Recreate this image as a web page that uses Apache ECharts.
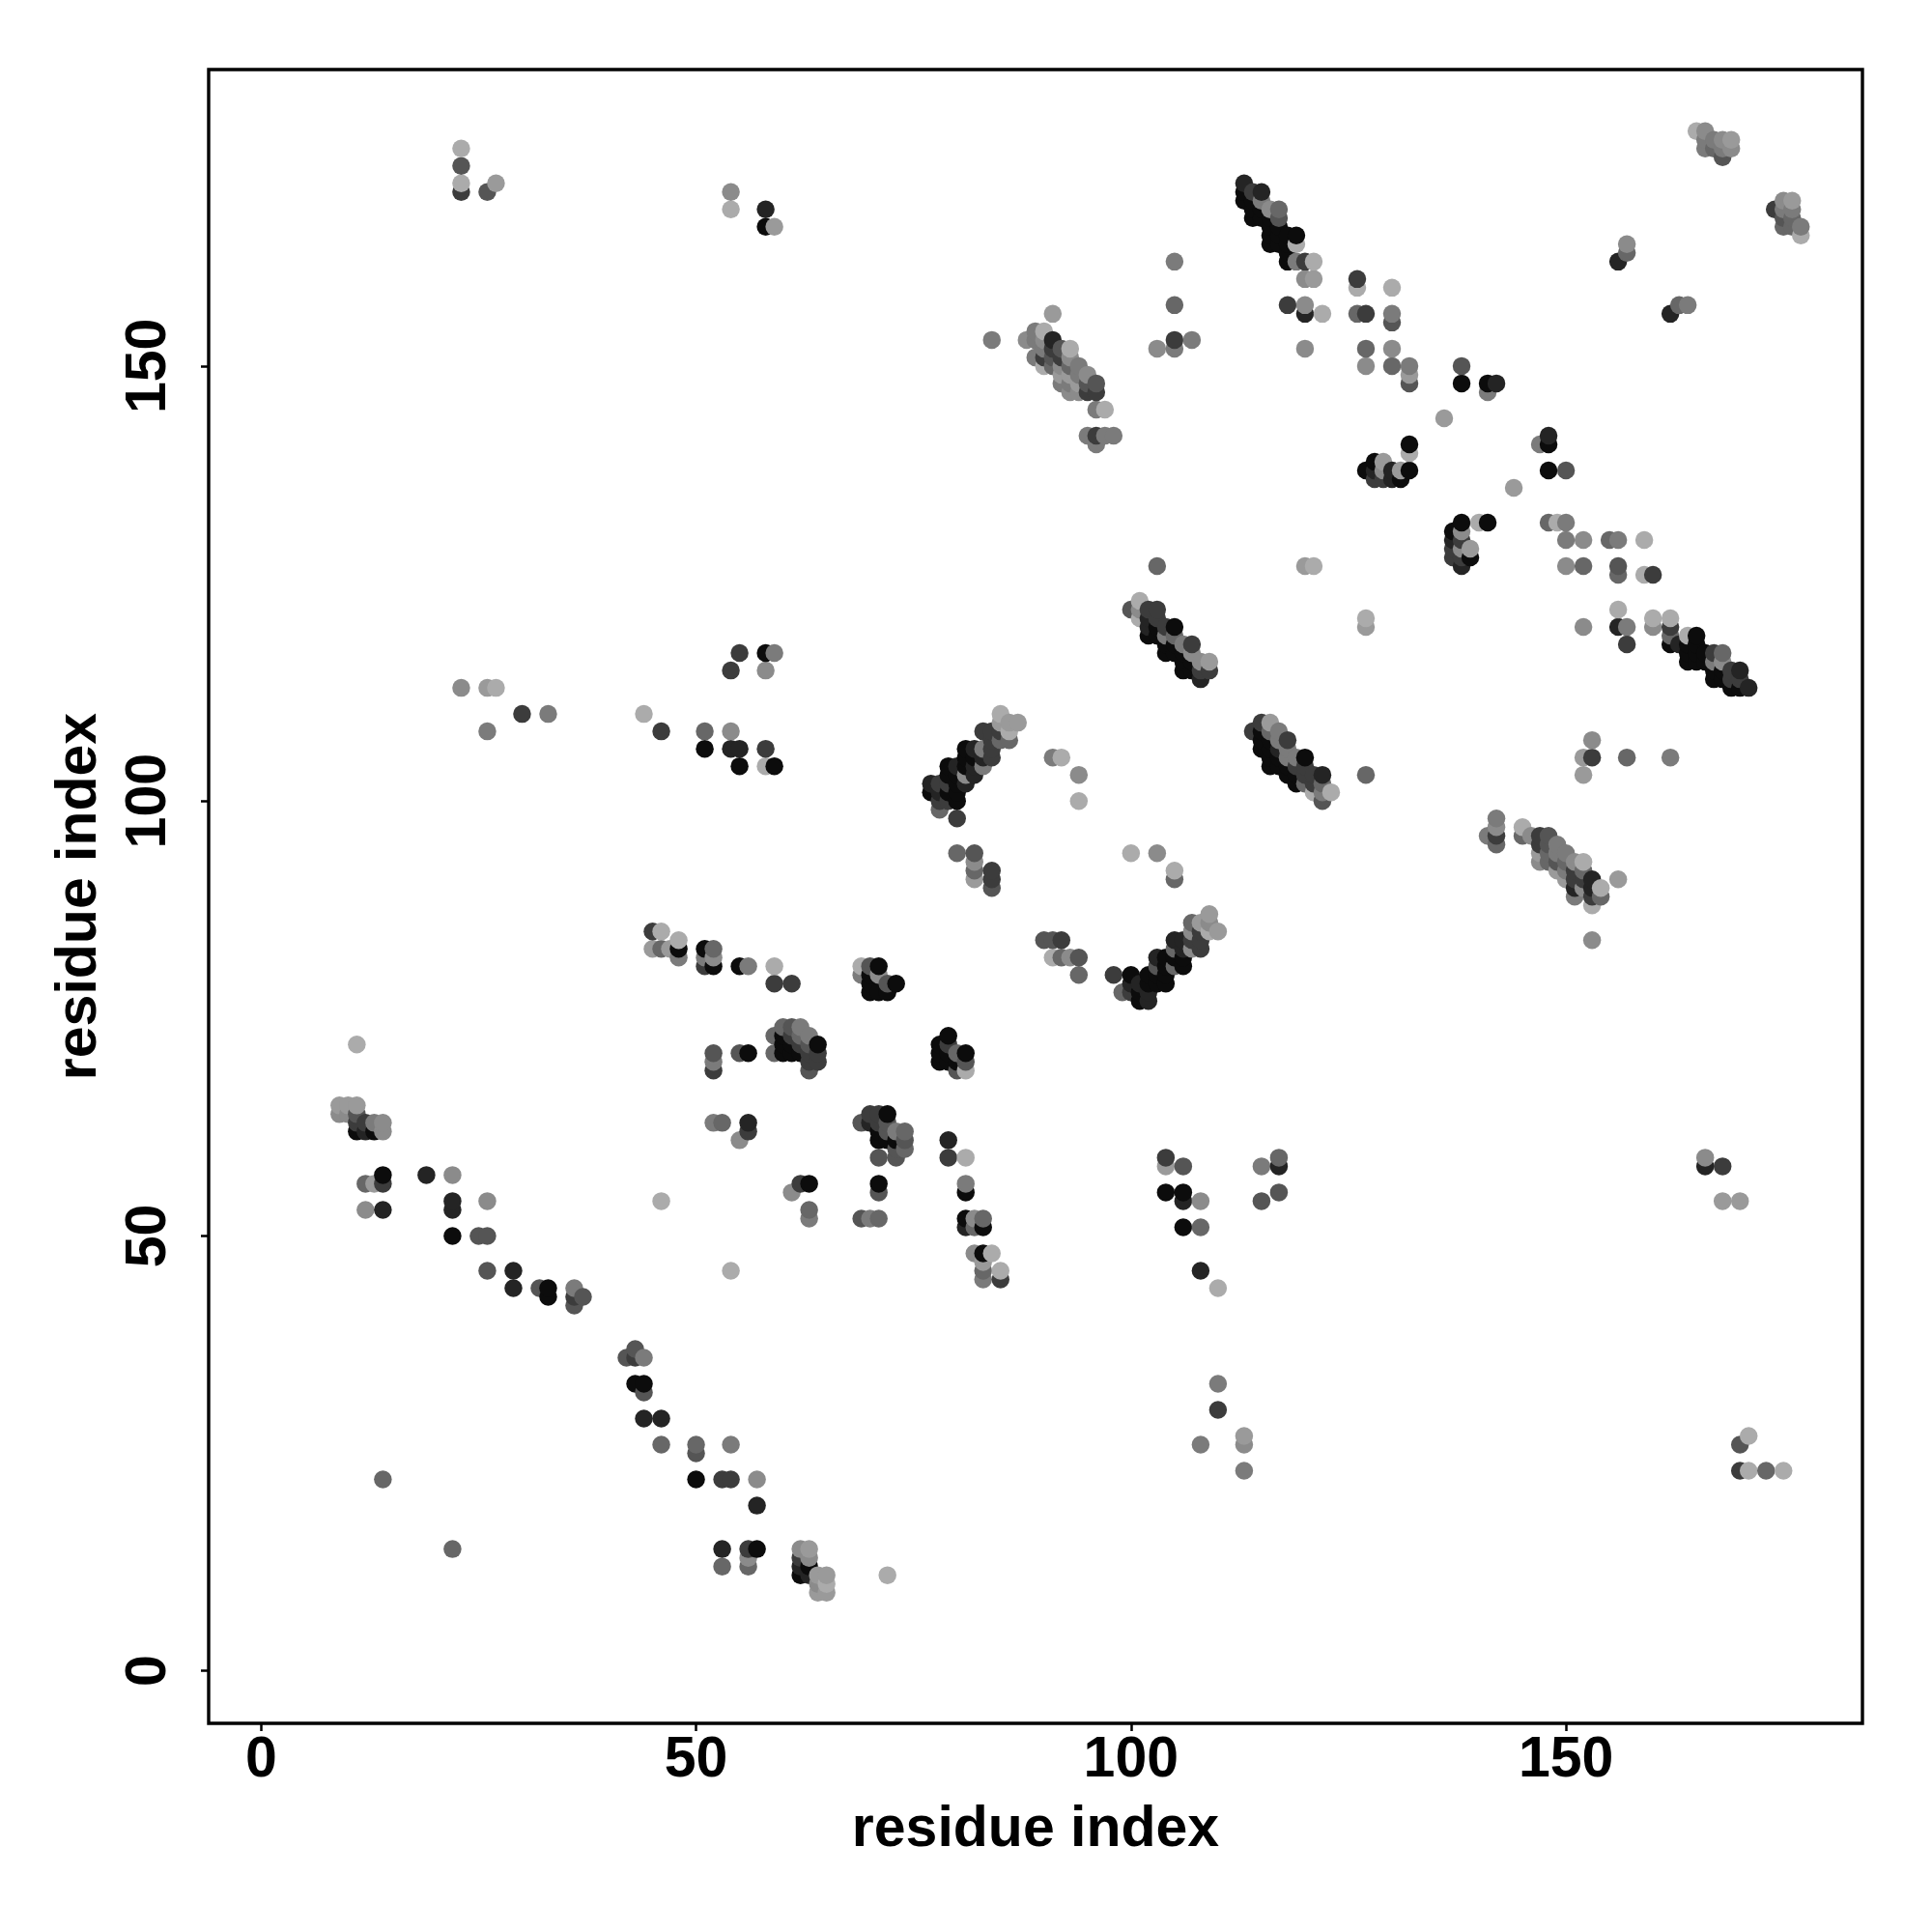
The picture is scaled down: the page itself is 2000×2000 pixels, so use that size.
<!DOCTYPE html>
<html><head><meta charset="utf-8">
<style>html,body{margin:0;padding:0;background:#fff}#c{width:2000px;height:2000px}</style>
<script src="https://cdn.jsdelivr.net/npm/echarts@6/dist/echarts.min.js"></script>
</head><body><div id="c"></div>
<script>
const tickValues=[0,50,100,150];
const axisName='residue index';
const greyLevels=['#0c0c0c','#242424','#3c3c3c','#555555','#676767','#7b7b7b','#8b8b8b','#9a9a9a','#ababab'];
// each entry: [residue x, residue y, strength level]
const helixLow=[[9,65,7],[10,65,7],[11,65,7],[9,64,6],[10,64,6],[11,64,3],[11,63,2],[12,63,2],[13,63,5],[14,63,6],[11,62,0],[12,62,1],[13,62,0],[14,62,6],[14,57,0],[12,56,4],[13,56,7],[14,56,2],[12,53,6],[14,53,1],[19,57,1],[22,57,6],[22,54,1],[22,53,1],[22,50,0],[26,54,6],[25,50,3],[26,50,3],[26,46,3],[29,46,1],[29,44,1],[32,44,3],[33,44,0],[33,43,0],[36,44,5],[36,43,2],[36,42,3],[37,43,3],[42,36,3],[43,37,3],[43,36,2],[44,36,5],[43,33,0],[44,33,0],[44,32,3],[44,29,1],[46,29,1],[46,26,4],[46,54,8],[50,26,4],[50,25,3],[50,22,0],[14,22,4],[22,14,4],[11,72,8]];
const lowBand=[[54,26,5],[53,22,2],[54,22,2],[57,22,6],[57,19,1],[53,14,1],[56,14,2],[57,14,0],[53,12,4],[56,12,4],[56,13,6],[62,14,6],[63,14,7],[62,13,2],[63,13,6],[62,12,1],[63,12,0],[62,11,0],[63,11,1],[64,11,7],[65,11,7],[64,10,6],[65,10,8],[64,9,7],[65,9,7],[72,11,8]];
const lowRight=[[108,26,5],[110,33,5],[110,30,2],[113,27,7],[113,26,6],[113,23,5],[170,26,3],[171,27,8],[170,23,2],[171,23,8],[173,23,4],[175,23,8],[104,59,2],[104,58,7],[106,58,3],[104,55,0],[106,55,0],[106,54,1],[108,54,6],[106,51,0],[108,51,4],[108,46,1],[110,44,8],[115,58,5],[117,59,4],[117,58,1],[115,54,3],[117,55,3],[166,59,6],[166,58,1],[168,58,2],[168,54,7],[170,54,7]];
const midUpper=[[45,85,2],[46,85,8],[45,83,7],[46,83,4],[47,83,7],[48,84,8],[48,83,0],[48,82,5],[51,83,0],[51,82,5],[51,81,2],[52,83,4],[52,82,6],[52,81,0],[55,81,0],[56,81,5],[59,81,8],[59,79,2],[61,79,2],[69,81,8],[70,81,3],[71,81,0],[69,80,5],[70,80,0],[71,80,6],[70,79,0],[72,79,3],[73,79,0],[70,78,0],[71,78,0],[72,78,0]];
const midCentre=[[60,74,4],[61,74,3],[62,74,5],[59,73,4],[60,73,0],[61,73,2],[62,73,4],[63,73,5],[60,72,0],[61,72,0],[62,72,2],[63,72,3],[64,72,0],[59,71,4],[60,71,0],[61,71,0],[62,71,0],[63,71,2],[64,71,2],[63,70,2],[64,70,2],[63,69,3],[52,71,3],[52,70,5],[52,69,2],[55,71,3],[56,71,0],[79,73,0],[78,72,0],[78,71,0],[78,70,0],[79,72,2],[79,71,0],[79,70,0],[80,71,4],[80,70,0],[80,69,3],[81,71,0],[81,70,3],[81,69,8]];
const midLower=[[52,63,5],[53,63,4],[56,63,1],[56,62,2],[55,61,6],[70,64,2],[71,64,2],[72,64,0],[69,63,3],[70,63,1],[71,63,2],[72,63,3],[71,62,0],[72,62,3],[73,62,5],[74,62,4],[71,61,0],[72,61,0],[73,61,0],[74,61,3],[73,60,3],[74,60,4],[71,59,3],[73,59,3],[79,61,1],[79,59,2],[81,59,8],[62,56,2],[63,56,0],[71,56,0],[81,56,5],[61,55,6],[71,55,3],[81,55,0],[63,53,4],[63,52,5],[69,52,3],[70,52,5],[71,52,4],[81,52,0],[82,52,6],[83,52,4],[81,51,1],[82,51,4],[83,51,0],[82,48,6],[83,48,0],[84,48,8],[83,47,7],[83,46,4],[85,46,8],[83,45,5],[85,45,2],[54,46,8]];
const turnPoints=[[80,94,4],[82,94,3],[82,93,6],[82,92,4],[82,91,7],[84,92,2],[84,91,2],[84,90,3],[90,84,3],[91,84,3],[92,84,2],[91,82,8],[92,82,4],[93,82,6],[94,82,3],[94,80,4],[91,105,5],[92,105,8],[94,103,6],[94,100,8],[100,94,8],[103,94,6],[105,92,8],[105,91,4]];
const curveUp=[[85,110,8],[85,109,7],[86,109,7],[87,109,7],[83,108,2],[84,108,2],[85,108,2],[86,108,8],[84,107,2],[85,107,4],[86,107,4],[81,106,0],[82,106,1],[83,106,5],[84,106,2],[81,105,0],[82,105,0],[83,105,1],[84,105,2],[79,104,0],[80,104,1],[81,104,0],[82,104,1],[83,104,5],[79,103,0],[80,103,0],[81,103,6],[82,103,1],[77,102,1],[78,102,2],[79,102,2],[80,102,0],[81,102,1],[77,101,0],[78,101,1],[79,101,0],[80,101,0],[78,100,2],[79,100,2],[80,100,0],[78,99,4],[80,98,2]];
const curveLow=[[98,80,2],[99,78,4],[100,80,0],[100,79,1],[100,78,2],[101,79,1],[101,78,0],[101,77,0],[102,80,0],[102,79,0],[102,78,1],[102,77,1],[103,82,1],[103,81,3],[103,80,0],[103,79,0],[104,82,0],[104,81,0],[104,80,0],[104,79,0],[105,84,1],[105,83,4],[105,82,0],[105,81,4],[106,84,1],[106,83,1],[106,82,0],[106,81,0],[107,86,4],[107,85,6],[107,84,2],[107,83,6],[108,86,7],[108,85,2],[108,84,2],[108,83,2],[109,87,7],[109,86,6],[109,85,8],[110,85,7]];
const diagCentre=[[100,122,3],[101,123,8],[101,122,6],[101,121,8],[102,122,2],[102,121,1],[102,120,1],[102,119,0],[103,122,2],[103,121,2],[103,120,0],[103,119,0],[104,120,2],[104,119,5],[104,118,0],[104,117,0],[105,120,0],[105,119,4],[105,118,0],[105,117,0],[106,118,5],[106,117,0],[106,116,0],[106,115,0],[107,118,2],[107,117,6],[107,116,0],[107,115,0],[108,116,6],[108,115,2],[108,114,1],[109,116,7],[109,115,2],[103,127,4],[120,127,7],[121,127,8]];
const diagRight=[[114,108,2],[115,109,2],[115,108,0],[115,107,0],[115,106,0],[116,109,7],[116,108,4],[116,107,0],[116,106,0],[116,105,0],[116,104,0],[117,108,5],[117,107,5],[117,106,1],[117,105,0],[117,104,0],[118,107,2],[118,106,5],[118,105,5],[118,104,0],[118,103,0],[119,105,5],[119,104,2],[119,103,0],[119,102,0],[120,105,0],[120,104,2],[120,103,2],[120,102,4],[121,103,2],[121,102,2],[121,101,8],[122,103,1],[122,102,4],[122,101,5],[122,100,3],[123,101,8]];
const diagTop=[[113,171,1],[113,170,0],[113,169,0],[114,170,2],[114,169,0],[114,168,0],[114,167,0],[115,170,1],[115,169,5],[115,168,0],[115,167,0],[116,168,6],[116,167,0],[116,166,0],[116,165,0],[116,164,0],[117,168,4],[117,167,3],[117,166,0],[117,165,0],[117,164,0],[118,165,0],[118,164,0],[118,163,0],[118,162,0],[119,165,0],[119,164,8],[119,162,5],[120,162,2],[120,160,6],[120,157,6],[120,156,1],[120,152,6],[121,162,8],[121,160,7],[118,157,2],[122,156,8]];
const upperScatter=[[126,160,2],[126,159,8],[126,156,4],[127,156,2],[127,152,4],[127,150,6],[130,159,8],[130,156,5],[130,155,3],[130,152,6],[130,150,4],[132,150,5],[132,149,7],[132,148,3],[138,150,3],[138,148,0],[141,148,0],[141,147,5],[142,148,1],[136,144,7],[144,136,7],[105,162,5],[105,157,4],[105,153,2],[105,152,5],[103,152,6],[107,153,5],[84,153,5],[132,141,0],[132,140,8],[132,138,0],[127,138,0],[128,139,0],[128,138,1],[128,137,2],[129,139,7],[129,138,6],[129,137,2],[130,138,1],[130,137,1],[131,138,7],[131,137,0]];
const diagUpperLeft=[[91,156,7],[88,153,6],[89,154,5],[89,153,5],[89,151,5],[90,154,8],[90,153,6],[90,152,5],[90,151,2],[90,150,8],[91,153,1],[91,152,2],[91,151,3],[91,150,4],[92,152,3],[92,151,2],[92,150,6],[92,149,7],[92,148,5],[93,152,8],[93,151,6],[93,150,4],[93,149,7],[93,148,5],[93,147,6],[94,150,5],[94,149,5],[94,148,7],[94,147,6],[95,149,6],[95,148,3],[95,147,2],[96,148,3],[96,147,2],[96,145,5],[97,145,8],[95,142,5],[96,142,2],[97,142,5],[98,142,5],[96,141,5]];
const rightBlock=[[148,142,1],[148,141,0],[147,141,5],[148,138,0],[150,138,3],[138,132,0],[138,131,6],[138,130,2],[138,129,6],[138,128,2],[138,127,1],[137,131,0],[137,130,1],[137,129,2],[137,128,2],[139,129,7],[139,128,0],[140,132,8],[141,132,0],[148,132,4],[149,132,8],[150,132,5],[150,130,5],[152,130,6],[155,130,4],[156,130,5],[159,130,8],[150,127,6],[152,127,4],[156,127,3],[156,126,4],[159,126,8],[160,126,2],[156,122,8],[156,120,1],[157,120,5],[157,118,2],[152,120,6],[160,121,8],[160,120,6],[162,121,8],[127,121,8],[127,120,7]];
const diagFarRight=[[162,120,2],[162,119,4],[162,118,0],[163,118,1],[164,119,8],[164,118,0],[164,117,0],[164,116,0],[165,119,0],[165,118,0],[165,117,0],[165,116,0],[166,117,0],[166,116,0],[167,117,2],[167,116,5],[167,115,0],[167,114,0],[168,117,4],[168,116,6],[168,115,0],[168,114,0],[169,115,2],[169,114,2],[169,113,0],[170,115,1],[170,114,2],[170,113,0],[171,113,1],[153,107,6],[153,105,2],[152,105,7],[152,103,7],[157,105,4],[162,105,5],[127,103,4]];
const diagLowRight=[[142,98,5],[142,97,6],[142,96,2],[142,95,4],[141,96,5],[145,97,8],[145,96,4],[146,96,6],[147,96,2],[147,95,2],[147,94,7],[147,93,6],[148,96,3],[148,95,3],[148,94,4],[148,93,4],[149,95,5],[149,94,5],[149,93,3],[149,92,7],[150,94,5],[150,93,4],[150,92,5],[150,91,7],[151,93,6],[151,92,2],[151,91,2],[151,90,1],[151,89,5],[152,93,8],[152,92,4],[152,91,2],[152,90,6],[153,91,1],[153,90,1],[153,89,2],[153,88,8],[154,90,8],[154,89,4],[156,91,7],[153,84,6]];
const topRight=[[165,177,8],[166,177,6],[166,176,5],[166,175,5],[167,176,5],[167,175,4],[168,176,6],[168,175,5],[168,174,3],[169,176,7],[169,175,6],[174,168,2],[175,169,6],[175,168,5],[175,167,3],[175,166,4],[176,169,7],[176,168,5],[176,167,4],[176,166,4],[177,166,5],[177,165,8],[157,164,6],[157,163,4],[156,162,1],[162,156,1],[163,157,4],[164,157,5]];
const topLeft=[[23,175,8],[23,173,3],[23,171,8],[23,170,2],[26,170,3],[27,171,7],[54,170,6],[54,168,8],[58,168,1],[58,166,0],[59,166,7]];
const leftMiddle=[[23,113,6],[26,113,7],[27,113,8],[26,108,5],[30,110,2],[33,110,5],[44,110,8],[46,108,2],[51,108,4],[54,108,6],[51,106,0],[54,106,1],[55,106,1],[55,104,0],[58,106,2],[58,104,8],[59,104,0],[54,115,2],[55,117,2],[58,117,0],[59,117,5],[58,115,6]];

const points=[].concat(helixLow,lowBand,lowRight,midUpper,midCentre,midLower,turnPoints,curveUp,curveLow,diagCentre,diagRight,diagTop,upperScatter,diagUpperLeft,rightBlock,diagFarRight,diagLowRight,topRight,topLeft,leftMiddle)
  .sort((a,b)=>a[0]-b[0]||a[1]-b[1]);

const font='"Liberation Sans", Arial, sans-serif';
function axis(isY,gap,labelMargin){
  return {type:'value',min:-6.03,max:184.08,name:axisName,nameLocation:'middle',nameGap:gap,
    nameTextStyle:{fontFamily:font,fontWeight:'bold',fontSize:59,color:'#000'},
    splitLine:{show:false},axisLine:{show:false,onZero:false},
    axisTick:{show:true,length:8,inside:false,customValues:tickValues,lineStyle:{color:'#000',width:2.5}},
    axisLabel:{show:true,margin:labelMargin,customValues:tickValues,rotate:isY?90:0,fontFamily:font,fontWeight:'bold',fontSize:59,color:'#000',hideOverlap:false,showMinLabel:true,showMaxLabel:true,verticalAlign:isY?'middle':'top',align:'center'}};
}
const chart=echarts.init(document.getElementById('c'),null,{renderer:'canvas',width:2000,height:2000});
chart.setOption({
  animation:false,backgroundColor:'#fff',
  grid:{left:216,top:72,width:1712,height:1712,show:true,borderColor:'#000',borderWidth:3.4,backgroundColor:'transparent',containLabel:false},
  xAxis:axis(false,81,9),
  yAxis:axis(true,104,61),
  series:[{type:'scatter',data:points,symbol:'circle',symbolSize:18.5,clip:false,
    encode:{x:0,y:1},
    itemStyle:{opacity:1,color:p=>greyLevels[p.data[2]]}}]
});
</script></body></html>
